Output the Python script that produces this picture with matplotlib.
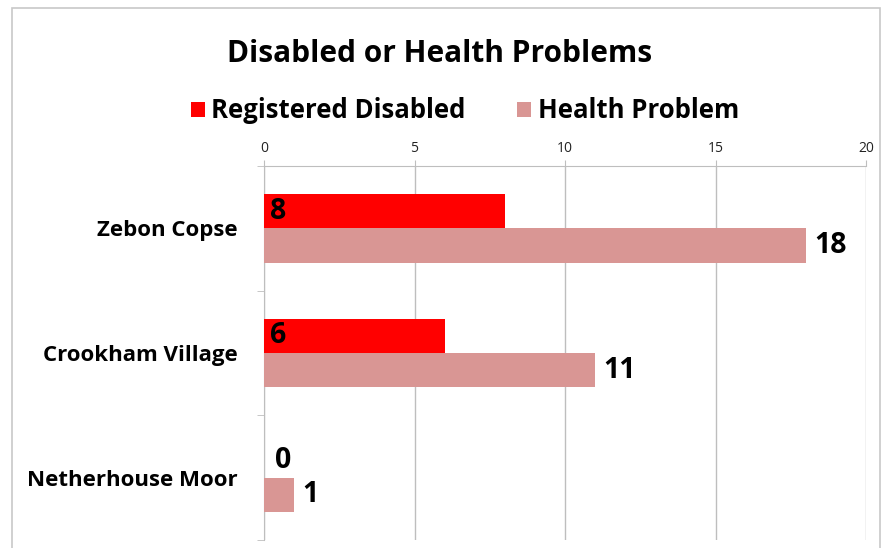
import matplotlib
matplotlib.use("Agg")
import matplotlib.pyplot as plt
import numpy as np
from matplotlib.patches import Rectangle

categories = ["Zebon Copse", "Crookham Village", "Netherhouse Moor"]
registered_disabled = [8, 6, 0]
health_problem = [18, 11, 1]
series_names = ["Registered Disabled", "Health Problem"]
xticks = [0, 5, 10, 15, 20]

plt.rcParams['font.family'] = ['Open Sans', 'DejaVu Sans']

fig = plt.figure(figsize=(8.85, 5.48), dpi=100)
fig.patches.append(Rectangle((12/885, -0.1), (880-12)/885, 1.1 - 8/548,
                             transform=fig.transFigure, fill=False,
                             edgecolor='#C8C8C8', linewidth=1.2))

ax = fig.add_axes([264/885, 1-540/548, (866-264)/885, (540-166)/548])

red = '#FF0000'
pink = '#D99694'
grid = '#BEBEBE'
y = np.arange(len(categories))
h = 0.275
ax.barh(y - h/2, registered_disabled, height=h, color=red, label=series_names[0], zorder=3)
ax.barh(y + h/2, health_problem, height=h, color=pink, label=series_names[1], zorder=3)

for yi, v in zip(y, registered_disabled):
    ax.annotate(str(v), (0, yi - h/2), xytext=(4 if v > 0 else 8, 0),
                textcoords='offset points', ha='left', va='center',
                fontsize=20.5, fontweight='bold', color='black', zorder=4)
for yi, v in zip(y, health_problem):
    ax.annotate(str(v), (v, yi + h/2), xytext=(6, 0), textcoords='offset points',
                ha='left', va='center', fontsize=20.5, fontweight='bold', color='black', zorder=4)

ax.set_xlim(0, 20)
ax.set_ylim(2.5, -0.5)
ax.xaxis.tick_top()
ax.set_xticks(xticks)
ax.set_xticklabels([str(t) for t in xticks], fontsize=10, color='#222222')
ax.tick_params(axis='x', length=4, color=grid, pad=3)
ax.grid(axis='x', color=grid, linewidth=1, zorder=0)

ax.set_yticks(y)
ax.set_yticklabels(categories, fontsize=16, fontweight='bold')
ax.tick_params(axis='y', length=0, pad=19)
ax.set_yticks([-0.5, 0.5, 1.5, 2.5], minor=True)
ax.tick_params(axis='y', which='minor', length=5, color=grid)

for s in ['right', 'bottom']:
    ax.spines[s].set_visible(False)
for s in ['top', 'left']:
    ax.spines[s].set_color(grid)

fig.text(440/885, 1-62/548, "Disabled or Health Problems", ha='center', va='baseline',
         fontsize=21.5, fontweight='bold')
fig.legend(loc='center', bbox_to_anchor=(465/885, 1-111/548), ncol=2, frameon=False,
           prop={'weight': 'bold', 'size': 18.5}, handlelength=0.55, handleheight=0.55,
           handletextpad=0.25, columnspacing=2.0)

fig.savefig("out.png", dpi=100)
